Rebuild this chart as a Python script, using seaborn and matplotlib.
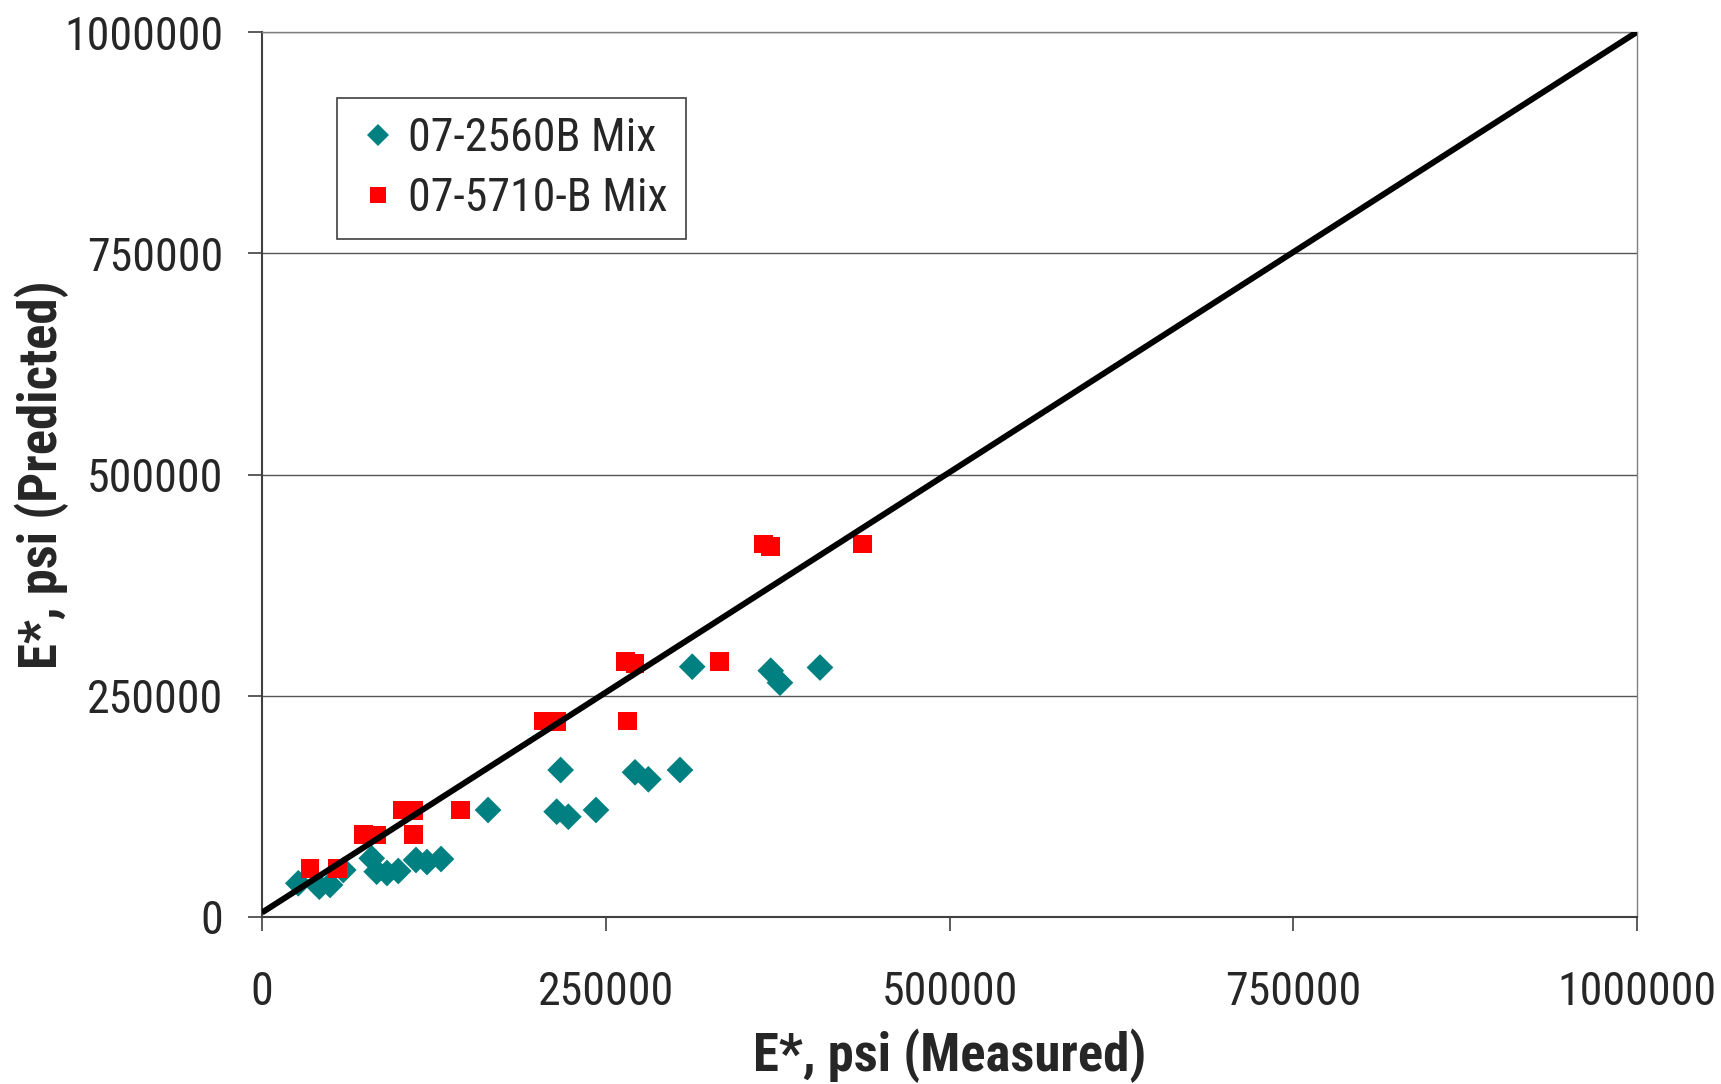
import matplotlib
matplotlib.use("Agg")
import matplotlib.pyplot as plt
from matplotlib import font_manager
import seaborn as sns
import pandas as pd

# ---- data ----
mix_a_name = "07-2560B Mix"
mix_b_name = "07-5710-B Mix"
mix_a_measured = [26400, 41700, 49500, 59100, 79800, 83400, 90900, 99100, 112000, 120000,
                  130200, 164400, 214300, 222800, 242900, 217200, 271300, 281000, 304000,
                  312900, 370000, 376700, 405800]
mix_a_predicted = [38100, 34200, 36200, 53100, 66300, 51200, 49700, 52000, 64400, 62100,
                   65500, 120900, 119000, 113300, 120900, 166100, 163500, 155600, 166100,
                   282800, 278300, 264700, 281900]
mix_b_measured = [34900, 54800, 73700, 83400, 110500, 102300, 110500, 144500, 204600, 214300,
                  266000, 264500, 271300, 332600, 364600, 370000, 436900]
mix_b_predicted = [54600, 54600, 93400, 92700, 93400, 120900, 120100, 120900, 221500, 220700,
                   221500, 288500, 286700, 288500, 421500, 418400, 421500]
line_x = [0, 1000000]
line_y = [5000, 1000000]
ticks = [0, 250000, 500000, 750000, 1000000]
tick_labels = ["0", "250000", "500000", "750000", "1000000"]
xlabel = "E*, psi (Measured)"
ylabel = "E*, psi (Predicted)"

df = pd.DataFrame({
    "measured": mix_a_measured + mix_b_measured,
    "predicted": mix_a_predicted + mix_b_predicted,
    "mix": [mix_a_name] * len(mix_a_measured) + [mix_b_name] * len(mix_b_measured),
})

sns.set_theme(style="white")
names = {f.name for f in font_manager.fontManager.ttflist}
fam = [f for f in ["Liberation Sans Narrow", "Arial Narrow", "Roboto Condensed", "Liberation Sans"] if f in names]
plt.rcParams["font.family"] = fam + ["DejaVu Sans"]

fig = plt.figure(figsize=(17.21, 10.84), dpi=100)
ax = fig.add_axes([262 / 1721, 1 - 917 / 1084, 1375 / 1721, 885 / 1084])

ax.plot(line_x, line_y, color="black", lw=4.3, zorder=3, solid_capstyle="butt")

sns.scatterplot(data=df, x="measured", y="predicted", hue="mix", style="mix",
                palette={mix_a_name: "#008080", mix_b_name: "#FF0000"},
                markers={mix_a_name: "D", mix_b_name: "s"},
                s=185, linewidth=0, ax=ax, zorder=2)

ax.set_xlim(0, 1000000)
ax.set_ylim(0, 1000000)
ax.set_xticks(ticks)
ax.set_xticklabels(tick_labels)
ax.set_yticks(ticks)
ax.set_yticklabels(tick_labels)
ax.tick_params(axis="both", which="major", labelsize=33, length=10, width=1.2,
               color="#404040", direction="out", left=True, bottom=True)
ax.tick_params(axis="x", pad=28)
ax.tick_params(axis="y", pad=18)

ax.yaxis.grid(True, color="#555555", lw=1.0)
ax.xaxis.grid(False)
for side in ["left", "bottom"]:
    ax.spines[side].set_color("#404040")
    ax.spines[side].set_linewidth(1.5)
for side in ["top", "right"]:
    ax.spines[side].set_color("#808080")
    ax.spines[side].set_linewidth(1.0)

ax.set_xlabel(xlabel, fontsize=38, fontweight="bold")
ax.set_ylabel(ylabel, fontsize=38, fontweight="bold")
ax.xaxis.label.set_va("center")
ax.yaxis.label.set_va("center")
ax.xaxis.set_label_coords(0.5, (917 - 1056) / 885)
ax.yaxis.set_label_coords((42 - 262) / 1375, 0.5)

handles, labels = ax.get_legend_handles_labels()
for h in handles:
    try:
        h.set_markersize(11)
    except Exception:
        pass
leg = ax.legend(handles, labels, loc="upper left",
                bbox_to_anchor=((337 - 262) / 1375, (917 - 98) / 885),
                fontsize=33, frameon=True, fancybox=False, framealpha=1,
                edgecolor="#404040", borderpad=0.4, handletextpad=0.15,
                handlelength=1.0, labelspacing=0.35, borderaxespad=0)
leg.get_frame().set_linewidth(1.2)

fig.savefig("out.png", dpi=100)
